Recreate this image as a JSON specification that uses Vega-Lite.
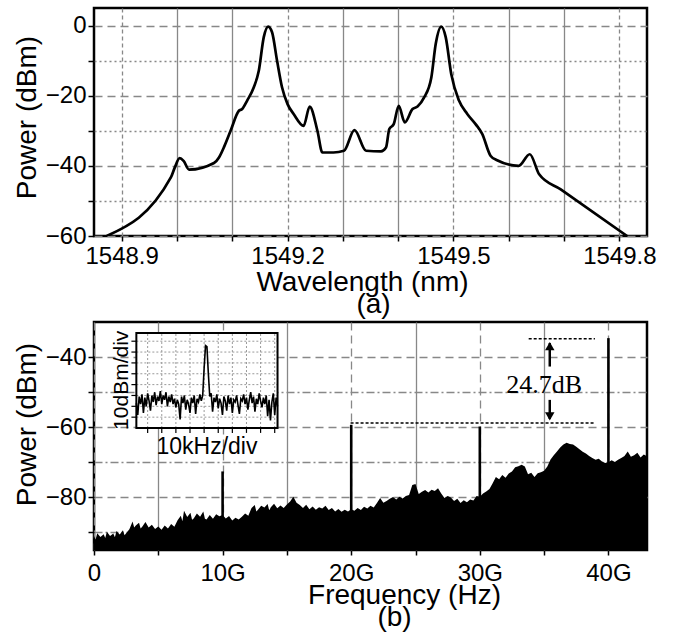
{
  "$schema": "https://vega.github.io/schema/vega-lite/v6.json",
  "background": "white",
  "padding": {"left": 12, "top": 6, "right": 5, "bottom": 2},
  "spacing": -1,
  "config": {
    "font": "Liberation Sans",
    "view": {"stroke": "black", "strokeWidth": 2.5},
    "title": {"font": "Liberation Sans", "fontSize": 28, "fontWeight": "normal", "color": "black", "orient": "bottom", "anchor": "middle"},
    "axis": {
      "domain": false,
      "labelFont": "Liberation Sans", "labelFontSize": 24, "labelColor": "black",
      "titleFont": "Liberation Sans", "titleFontSize": 28, "titleFontWeight": "normal", "titleColor": "black",
      "tickColor": "black", "tickWidth": 1.5, "tickSize": 6,
      "gridColor": "#888888", "gridWidth": 1.3, "gridOpacity": 1,
      "labelOverlap": false, "labelFlush": false
    }
  },
  "datasets": {
    "spectrum": [
      {"f":0,"p":-91.0},{"f":0.125,"p":-92.0},{"f":0.25,"p":-90.2},{"f":0.5,"p":-91.3},{"f":0.75,"p":-90.5},{"f":0.875,"p":-91.6},{"f":1.0,"p":-89.8},{"f":1.25,"p":-91.0},{"f":1.5,"p":-90.3},{"f":1.625,"p":-91.4},{"f":1.75,"p":-89.6},{"f":2.0,"p":-90.6},{"f":2.25,"p":-89.4},{"f":2.375,"p":-90.8},{"f":2.5,"p":-90.2},{"f":2.75,"p":-89.1},{"f":3.0,"p":-86.9},{"f":3.125,"p":-88.6},{"f":3.25,"p":-88.0},{"f":3.5,"p":-87.2},{"f":3.625,"p":-88.9},{"f":3.75,"p":-88.4},{"f":4.0,"p":-87.0},{"f":4.25,"p":-88.6},{"f":4.5,"p":-87.8},{"f":4.75,"p":-89.0},{"f":5.0,"p":-88.3},{"f":5.25,"p":-89.2},{"f":5.5,"p":-88.0},{"f":5.75,"p":-88.9},{"f":6.0,"p":-87.6},{"f":6.25,"p":-88.4},{"f":6.5,"p":-86.5},{"f":6.75,"p":-85.2},{"f":6.875,"p":-86.8},{"f":7.0,"p":-83.8},{"f":7.25,"p":-85.6},{"f":7.5,"p":-84.4},{"f":7.625,"p":-86.4},{"f":7.75,"p":-86.0},{"f":8.0,"p":-84.6},{"f":8.25,"p":-85.5},{"f":8.5,"p":-84.0},{"f":8.625,"p":-86.1},{"f":8.75,"p":-86.3},{"f":9.0,"p":-85.0},{"f":9.25,"p":-86.1},{"f":9.5,"p":-84.8},{"f":9.75,"p":-85.4},{"f":10.0,"p":-85.0},{"f":10.25,"p":-86.0},{"f":10.5,"p":-85.3},{"f":10.75,"p":-86.6},{"f":11.0,"p":-85.8},{"f":11.25,"p":-86.3},{"f":11.5,"p":-85.5},{"f":11.75,"p":-84.6},{"f":12.0,"p":-85.2},{"f":12.25,"p":-83.0},{"f":12.5,"p":-82.2},{"f":12.625,"p":-84.0},{"f":12.75,"p":-83.5},{"f":13.0,"p":-82.4},{"f":13.25,"p":-82.9},{"f":13.5,"p":-81.9},{"f":13.625,"p":-83.7},{"f":13.75,"p":-82.8},{"f":14.0,"p":-81.8},{"f":14.25,"p":-83.1},{"f":14.5,"p":-82.3},{"f":14.75,"p":-83.0},{"f":15.0,"p":-82.0},{"f":15.25,"p":-81.2},{"f":15.5,"p":-79.8},{"f":15.75,"p":-81.5},{"f":16.0,"p":-82.2},{"f":16.25,"p":-83.0},{"f":16.5,"p":-82.1},{"f":16.75,"p":-83.4},{"f":17.0,"p":-82.6},{"f":17.25,"p":-83.5},{"f":17.5,"p":-82.8},{"f":17.75,"p":-83.2},{"f":18.0,"p":-82.4},{"f":18.25,"p":-83.6},{"f":18.5,"p":-83.0},{"f":18.75,"p":-84.0},{"f":19.0,"p":-83.3},{"f":19.25,"p":-84.1},{"f":19.5,"p":-83.5},{"f":19.75,"p":-84.0},{"f":20.0,"p":-83.4},{"f":20.25,"p":-83.8},{"f":20.5,"p":-83.0},{"f":20.75,"p":-83.6},{"f":21.0,"p":-82.7},{"f":21.25,"p":-83.2},{"f":21.5,"p":-82.4},{"f":21.75,"p":-82.9},{"f":22.0,"p":-81.6},{"f":22.25,"p":-80.2},{"f":22.5,"p":-81.5},{"f":22.75,"p":-81.0},{"f":23.0,"p":-80.4},{"f":23.25,"p":-79.9},{"f":23.5,"p":-80.6},{"f":23.75,"p":-79.8},{"f":24.0,"p":-80.3},{"f":24.25,"p":-79.6},{"f":24.5,"p":-79.3},{"f":24.75,"p":-76.5},{"f":25.0,"p":-76.2},{"f":25.25,"p":-79.0},{"f":25.5,"p":-78.4},{"f":25.75,"p":-77.9},{"f":26.0,"p":-78.6},{"f":26.25,"p":-77.8},{"f":26.5,"p":-78.2},{"f":26.75,"p":-77.4},{"f":27.0,"p":-78.9},{"f":27.25,"p":-80.2},{"f":27.5,"p":-79.6},{"f":27.75,"p":-80.0},{"f":28.0,"p":-81.0},{"f":28.25,"p":-80.4},{"f":28.5,"p":-81.6},{"f":28.75,"p":-80.8},{"f":29.0,"p":-81.4},{"f":29.25,"p":-80.6},{"f":29.5,"p":-80.9},{"f":29.75,"p":-79.6},{"f":30.0,"p":-79.8},{"f":30.25,"p":-78.9},{"f":30.5,"p":-78.3},{"f":30.75,"p":-77.6},{"f":31.0,"p":-76.0},{"f":31.25,"p":-74.2},{"f":31.5,"p":-74.8},{"f":31.75,"p":-73.6},{"f":32.0,"p":-74.4},{"f":32.25,"p":-73.2},{"f":32.5,"p":-72.6},{"f":32.75,"p":-71.4},{"f":33.0,"p":-71.1},{"f":33.25,"p":-70.7},{"f":33.5,"p":-71.2},{"f":33.75,"p":-73.4},{"f":34.0,"p":-73.0},{"f":34.25,"p":-74.2},{"f":34.5,"p":-73.1},{"f":34.75,"p":-72.8},{"f":35.0,"p":-72.4},{"f":35.25,"p":-71.2},{"f":35.5,"p":-69.2},{"f":35.75,"p":-68.0},{"f":36.0,"p":-66.9},{"f":36.25,"p":-65.8},{"f":36.5,"p":-64.9},{"f":36.75,"p":-64.4},{"f":37.0,"p":-64.8},{"f":37.25,"p":-64.9},{"f":37.5,"p":-65.6},{"f":37.75,"p":-66.3},{"f":38.0,"p":-67.0},{"f":38.25,"p":-67.5},{"f":38.5,"p":-68.2},{"f":38.75,"p":-68.8},{"f":39.0,"p":-69.3},{"f":39.25,"p":-69.0},{"f":39.5,"p":-69.8},{"f":39.75,"p":-70.2},{"f":40.0,"p":-70.0},{"f":40.25,"p":-69.4},{"f":40.5,"p":-69.9},{"f":40.75,"p":-69.3},{"f":41.0,"p":-68.8},{"f":41.25,"p":-68.2},{"f":41.5,"p":-66.9},{"f":41.75,"p":-68.4},{"f":42.0,"p":-68.0},{"f":42.25,"p":-67.3},{"f":42.5,"p":-68.6},{"f":42.75,"p":-67.8},{"f":43.0,"p":-68.3}
    ],
    "inset": [
      {"u":0.0,"v":2.3},{"u":0.1,"v":1.2},{"u":0.2,"v":2.9},{"u":0.3,"v":2.2},{"u":0.4,"v":3.1},{"u":0.5,"v":1.4},{"u":0.6,"v":2.8},{"u":0.7,"v":2.0},{"u":0.8,"v":3.2},{"u":0.9,"v":2.5},{"u":1.0,"v":1.6},{"u":1.1,"v":3.0},{"u":1.2,"v":2.4},{"u":1.3,"v":3.3},{"u":1.4,"v":2.1},{"u":1.5,"v":2.9},{"u":1.6,"v":2.5},{"u":1.7,"v":3.4},{"u":1.8,"v":2.2},{"u":1.9,"v":3.0},{"u":2.0,"v":2.6},{"u":2.1,"v":3.3},{"u":2.2,"v":2.0},{"u":2.3,"v":2.9},{"u":2.4,"v":2.4},{"u":2.5,"v":3.1},{"u":2.6,"v":2.2},{"u":2.7,"v":2.7},{"u":2.8,"v":1.9},{"u":2.9,"v":2.6},{"u":3.0,"v":2.2},{"u":3.1,"v":0.8},{"u":3.2,"v":2.9},{"u":3.3,"v":2.3},{"u":3.4,"v":3.0},{"u":3.5,"v":1.7},{"u":3.6,"v":2.6},{"u":3.7,"v":2.2},{"u":3.8,"v":1.4},{"u":3.9,"v":2.8},{"u":4.0,"v":2.3},{"u":4.1,"v":3.0},{"u":4.2,"v":1.3},{"u":4.3,"v":2.7},{"u":4.4,"v":2.4},{"u":4.5,"v":3.1},{"u":4.6,"v":2.5},{"u":4.7,"v":3.0},{"u":4.8,"v":5.5},{"u":4.9,"v":7.6},{"u":5.0,"v":7.5},{"u":5.1,"v":5.0},{"u":5.2,"v":2.9},{"u":5.3,"v":3.2},{"u":5.4,"v":1.5},{"u":5.5,"v":2.8},{"u":5.6,"v":2.4},{"u":5.7,"v":3.1},{"u":5.8,"v":1.8},{"u":5.9,"v":2.7},{"u":6.0,"v":2.3},{"u":6.1,"v":1.2},{"u":6.2,"v":2.9},{"u":6.3,"v":2.5},{"u":6.4,"v":1.6},{"u":6.5,"v":3.0},{"u":6.6,"v":2.2},{"u":6.7,"v":2.8},{"u":6.8,"v":1.4},{"u":6.9,"v":2.6},{"u":7.0,"v":2.4},{"u":7.1,"v":3.0},{"u":7.2,"v":2.1},{"u":7.3,"v":1.3},{"u":7.4,"v":2.7},{"u":7.5,"v":2.5},{"u":7.6,"v":3.1},{"u":7.7,"v":2.2},{"u":7.8,"v":2.8},{"u":7.9,"v":1.7},{"u":8.0,"v":2.6},{"u":8.1,"v":3.3},{"u":8.2,"v":2.3},{"u":8.3,"v":2.9},{"u":8.4,"v":1.5},{"u":8.5,"v":2.7},{"u":8.6,"v":2.2},{"u":8.7,"v":3.2},{"u":8.8,"v":2.5},{"u":8.9,"v":1.9},{"u":9.0,"v":2.8},{"u":9.1,"v":2.2},{"u":9.2,"v":3.0},{"u":9.3,"v":1.1},{"u":9.4,"v":2.6},{"u":9.5,"v":0.7},{"u":9.6,"v":2.4},{"u":9.7,"v":3.2},{"u":9.8,"v":1.2},{"u":9.9,"v":2.8},{"u":10.0,"v":2.0}
    ]
  },
  "vconcat": [
    {
      "width": 553, "height": 228,
      "title": {"text": "(a)", "offset": -5, "dx": 3},
      "data": {"values": [
        {"wl":1548.873,"p":-60},{"wl":1548.989,"p":-43.3},{"wl":1548.996,"p":-40.5},{"wl":1549.005,"p":-37.8},{"wl":1549.012,"p":-38.6},{"wl":1549.022,"p":-41.1},{"wl":1549.067,"p":-39.2},{"wl":1549.076,"p":-37.6},{"wl":1549.086,"p":-34.3},{"wl":1549.097,"p":-30},{"wl":1549.112,"p":-24.3},{"wl":1549.118,"p":-23.8},{"wl":1549.127,"p":-21.4},{"wl":1549.139,"p":-17.6},{"wl":1549.148,"p":-12.9},{"wl":1549.157,"p":-3.3},{"wl":1549.165,"p":-0.3},{"wl":1549.172,"p":-1.9},{"wl":1549.181,"p":-10},{"wl":1549.19,"p":-17.6},{"wl":1549.2,"p":-22.4},{"wl":1549.211,"p":-25.2},{"wl":1549.229,"p":-28.6},{"wl":1549.24,"p":-23.1},{"wl":1549.254,"p":-30},{"wl":1549.263,"p":-36.2},{"wl":1549.283,"p":-36.2},{"wl":1549.302,"p":-35.7},{"wl":1549.321,"p":-29.8},{"wl":1549.342,"p":-35.7},{"wl":1549.369,"p":-35.9},{"wl":1549.378,"p":-34.8},{"wl":1549.384,"p":-29.5},{"wl":1549.392,"p":-28.1},{"wl":1549.401,"p":-22.9},{"wl":1549.412,"p":-27.6},{"wl":1549.426,"p":-23.8},{"wl":1549.435,"p":-23.1},{"wl":1549.447,"p":-20.5},{"wl":1549.46,"p":-14.8},{"wl":1549.468,"p":-5.2},{"wl":1549.478,"p":-0.3},{"wl":1549.486,"p":-3.3},{"wl":1549.496,"p":-13.8},{"wl":1549.51,"p":-21.4},{"wl":1549.525,"p":-25.2},{"wl":1549.54,"p":-28.1},{"wl":1549.552,"p":-30.9},{"wl":1549.567,"p":-37.1},{"wl":1549.579,"p":-38.4},{"wl":1549.618,"p":-40},{"wl":1549.638,"p":-36.7},{"wl":1549.655,"p":-42.4},{"wl":1549.694,"p":-46.7},{"wl":1549.814,"p":-60}
      ]},
      "mark": {"type": "line", "color": "black", "strokeWidth": 2.7, "interpolate": "monotone", "clip": true},
      "encoding": {
        "x": {"field": "wl", "type": "quantitative",
          "scale": {"domain": [1548.85, 1549.85], "nice": false, "zero": false},
          "axis": {
            "values": [1548.9, 1549.0, 1549.1, 1549.2, 1549.3, 1549.4, 1549.5, 1549.6, 1549.7, 1549.8],
            "format": ".1f",
            "labelExpr": "round(datum.value*10) % 3 === 0 ? datum.label : ''",
            "gridDash": {"condition": {"test": "round(datum.value*10) % 3 === 0", "value": [4, 3]}, "value": [1, 0]},
            "title": "Wavelength (nm)", "titleX": 268,
            "labelPadding": 3, "titlePadding": 0, "tickSize": 5
          }},
        "y": {"field": "p", "type": "quantitative",
          "scale": {"domain": [-60, 5], "nice": false},
          "axis": {
            "values": [-60, -50, -40, -30, -20, -10, 0],
            "labelExpr": "datum.value % 20 === 0 ? datum.label : ''",
            "gridDash": {"condition": {"test": "datum.value % 20 === 0", "value": [8, 5]}, "value": [2, 3]},
            "title": "Power (dBm)", "titlePadding": 4, "labelPadding": 2, "titleY": 109
          }}
      }
    },
    {
      "width": 553, "height": 228,
      "title": {"text": "(b)", "offset": -5, "dx": 24},
      "layer": [
        {
          "layer": [
            {
              "data": {"name": "spectrum"},
              "mark": {"type": "area", "color": "black", "clip": true, "interpolate": "linear"},
              "encoding": {
                "x": {"field": "f", "type": "quantitative",
                  "scale": {"domain": [0, 43], "nice": false, "zero": false},
                  "axis": {
                    "values": [0, 5, 10, 15, 20, 25, 30, 35, 40],
                    "labelExpr": "datum.value % 10 === 0 ? (datum.value === 0 ? '0' : datum.value + 'G') : ''",
                    "gridDash": {"condition": {"test": "datum.value % 10 === 0", "value": [8, 5]}, "value": [1, 0]},
                    "title": "Frequency (Hz)", "titleX": 310,
                    "labelPadding": 6, "titlePadding": -4, "tickSize": 5
                  }},
                "y": {"field": "p", "type": "quantitative",
                  "scale": {"domain": [-95, -30], "nice": false, "zero": false},
                  "axis": {
                    "values": [-90, -80, -70, -60, -50, -40],
                    "labelExpr": "datum.value % 20 === 0 ? datum.label : ''",
                    "gridDash": {"condition": {"test": "datum.value % 20 === 0", "value": [8, 5]}, "value": [8, 3, 2, 3]},
                    "title": "Power (dBm)", "titlePadding": 4, "labelPadding": 2, "titleY": 102
                  }},
                "y2": {"datum": -95}
              }
            },
            {
              "data": {"values": [{"f":10,"p":-72.6},{"f":20,"p":-59.3},{"f":30,"p":-59.8},{"f":40,"p":-34.6}]},
              "mark": {"type": "rule", "color": "black", "strokeWidth": 2.6},
              "encoding": {
                "x": {"field": "f", "type": "quantitative", "scale": {"domain": [0, 43], "nice": false, "zero": false}},
                "y": {"field": "p", "type": "quantitative", "scale": {"domain": [-95, -30], "nice": false, "zero": false}},
                "y2": {"datum": -95}
              }
            },
            {
              "data": {"values": [{"a":33.8,"b":38.95,"p":-34.8},{"a":19.95,"b":38.85,"p":-58.8}]},
              "mark": {"type": "rule", "color": "black", "strokeWidth": 1.5, "strokeDash": [3, 2]},
              "encoding": {
                "x": {"field": "a", "type": "quantitative", "scale": {"domain": [0, 43], "nice": false, "zero": false}},
                "x2": {"field": "b"},
                "y": {"field": "p", "type": "quantitative", "scale": {"domain": [-95, -30], "nice": false, "zero": false}}
              }
            },
            {
              "data": {"values": [{"f":35.44,"p1":-36.0,"p2":-42.7},{"f":35.44,"p1":-52.2,"p2":-57.6}]},
              "mark": {"type": "rule", "color": "black", "strokeWidth": 2.5},
              "encoding": {
                "x": {"field": "f", "type": "quantitative", "scale": {"domain": [0, 43], "nice": false, "zero": false}},
                "y": {"field": "p1", "type": "quantitative", "scale": {"domain": [-95, -30], "nice": false, "zero": false}},
                "y2": {"field": "p2"}
              }
            },
            {
              "data": {"values": [{"f":35.44,"p":-36.9,"s":"triangle-up"},{"f":35.44,"p":-56.9,"s":"triangle-down"}]},
              "mark": {"type": "point", "filled": true, "color": "black", "opacity": 1, "size": 90},
              "encoding": {
                "x": {"field": "f", "type": "quantitative", "scale": {"domain": [0, 43], "nice": false, "zero": false}},
                "y": {"field": "p", "type": "quantitative", "scale": {"domain": [-95, -30], "nice": false, "zero": false}},
                "shape": {"field": "s", "type": "nominal", "scale": {"domain": ["triangle-up", "triangle-down"], "range": ["triangle-up", "triangle-down"]}, "legend": null}
              }
            },
            {
              "data": {"values": [{"f":35.0,"p":-47.9,"t":"24.7dB"}]},
              "mark": {"type": "text", "font": "Liberation Serif", "fontSize": 26, "color": "black", "align": "center", "baseline": "middle"},
              "encoding": {
                "x": {"field": "f", "type": "quantitative", "scale": {"domain": [0, 43], "nice": false, "zero": false}},
                "y": {"field": "p", "type": "quantitative", "scale": {"domain": [-95, -30], "nice": false, "zero": false}},
                "text": {"field": "t"}
              }
            }
          ]
        },
        {
          "layer": [
            {
              "data": {"values": [{"u1":0,"u2":10,"v1":0,"v2":8.76}]},
              "mark": {"type": "rect", "fill": "white", "stroke": null},
              "encoding": {
                "x": {"field": "u1", "type": "quantitative", "scale": {"domain": [-3, 36.17], "nice": false, "zero": false}, "axis": null},
                "x2": {"field": "u2"},
                "y": {"field": "v1", "type": "quantitative", "scale": {"domain": [-11.24, 9.77], "nice": false, "zero": false}, "axis": null},
                "y2": {"field": "v2"}
              }
            },
            {
              "data": {"values": [{"u":0.8},{"u":1.8},{"u":2.8},{"u":3.8},{"u":4.8},{"u":5.8},{"u":6.8},{"u":7.8},{"u":8.8},{"u":9.8}]},
              "mark": {"type": "rule", "color": "#999999", "strokeWidth": 1, "strokeDash": [2, 2]},
              "encoding": {
                "x": {"field": "u", "type": "quantitative", "scale": {"domain": [-3, 36.17], "nice": false, "zero": false}, "axis": null},
                "y": {"datum": 0, "type": "quantitative", "scale": {"domain": [-11.24, 9.77], "nice": false, "zero": false}, "axis": null},
                "y2": {"datum": 8.76}
              }
            },
            {
              "data": {"values": [{"v":1},{"v":2},{"v":3},{"v":4},{"v":5},{"v":6},{"v":7},{"v":8}]},
              "mark": {"type": "rule", "color": "#999999", "strokeWidth": 1, "strokeDash": [2, 2]},
              "encoding": {
                "x": {"datum": 0, "type": "quantitative", "scale": {"domain": [-3, 36.17], "nice": false, "zero": false}, "axis": null},
                "x2": {"datum": 10},
                "y": {"field": "v", "type": "quantitative", "scale": {"domain": [-11.24, 9.77], "nice": false, "zero": false}, "axis": null}
              }
            },
            {
              "data": {"values": [{"v":1},{"v":2},{"v":3},{"v":4},{"v":5},{"v":6},{"v":7},{"v":8}]},
              "mark": {"type": "rule", "color": "black", "strokeWidth": 1.2},
              "encoding": {
                "x": {"datum": -0.35, "type": "quantitative", "scale": {"domain": [-3, 36.17], "nice": false, "zero": false}, "axis": null},
                "x2": {"datum": 0},
                "y": {"field": "v", "type": "quantitative", "scale": {"domain": [-11.24, 9.77], "nice": false, "zero": false}, "axis": null}
              }
            },
            {
              "data": {"values": [{"u":0.8},{"u":1.8},{"u":2.8},{"u":3.8},{"u":4.8},{"u":5.8},{"u":6.8},{"u":7.8},{"u":8.8},{"u":9.8}]},
              "mark": {"type": "rule", "color": "black", "strokeWidth": 1.2},
              "encoding": {
                "x": {"field": "u", "type": "quantitative", "scale": {"domain": [-3, 36.17], "nice": false, "zero": false}, "axis": null},
                "y": {"datum": -0.45, "type": "quantitative", "scale": {"domain": [-11.24, 9.77], "nice": false, "zero": false}, "axis": null},
                "y2": {"datum": 0}
              }
            },
            {
              "data": {"name": "inset"},
              "mark": {"type": "line", "color": "black", "strokeWidth": 1.6},
              "encoding": {
                "x": {"field": "u", "type": "quantitative", "scale": {"domain": [-3, 36.17], "nice": false, "zero": false}, "axis": null},
                "y": {"field": "v", "type": "quantitative", "scale": {"domain": [-11.24, 9.77], "nice": false, "zero": false}, "axis": null}
              }
            },
            {
              "data": {"values": [{"u1":0,"u2":10,"v1":0,"v2":8.76}]},
              "mark": {"type": "rect", "fill": null, "fillOpacity": 0, "stroke": "black", "strokeWidth": 2},
              "encoding": {
                "x": {"field": "u1", "type": "quantitative", "scale": {"domain": [-3, 36.17], "nice": false, "zero": false}, "axis": null},
                "x2": {"field": "u2"},
                "y": {"field": "v1", "type": "quantitative", "scale": {"domain": [-11.24, 9.77], "nice": false, "zero": false}, "axis": null},
                "y2": {"field": "v2"}
              }
            },
            {
              "data": {"values": [{"u":5,"v":-1.72,"t":"10kHz/div","a":0,"s":23},{"u":-1.0,"v":4.4,"t":"10dBm/div","a":-90,"s":21}]},
              "mark": {"type": "text", "color": "black", "align": "center", "baseline": "middle"},
              "encoding": {
                "x": {"field": "u", "type": "quantitative", "scale": {"domain": [-3, 36.17], "nice": false, "zero": false}, "axis": null},
                "y": {"field": "v", "type": "quantitative", "scale": {"domain": [-11.24, 9.77], "nice": false, "zero": false}, "axis": null},
                "text": {"field": "t"},
                "angle": {"field": "a", "type": "quantitative", "scale": null},
                "size": {"field": "s", "type": "quantitative", "scale": null}
              }
            }
          ]
        }
      ],
      "resolve": {"scale": {"x": "independent", "y": "independent"}}
    }
  ]
}
